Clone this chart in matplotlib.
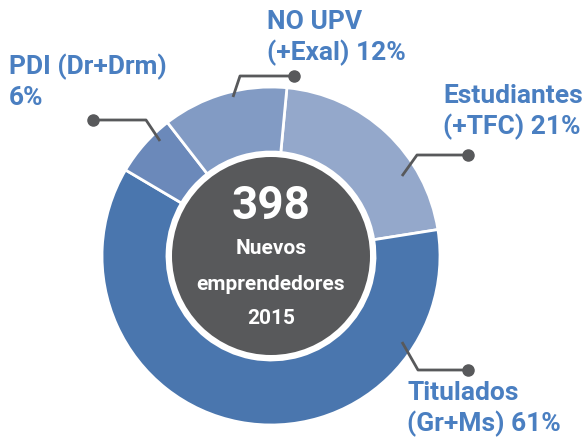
import matplotlib
matplotlib.use("Agg")
import matplotlib.pyplot as plt
from matplotlib.patches import Circle

# ---- data ----
categories = ["Estudiantes\n(+TFC) 21%", "Titulados\n(Gr+Ms) 61%", "PDI (Dr+Drm)\n6%", "NO UPV\n(+Exal) 12%"]
values = [21, 61, 6, 12]
colors = ["#94a8cb", "#4a76ae", "#6b89ba", "#829bc4"]
total_label = "398"
center_lines = ["Nuevos", "emprendedores", "2015"]

W, H = 588, 438
fig = plt.figure(figsize=(W / 100, H / 100), dpi=100)
ax = fig.add_axes([0, 0, 1, 1])

def Y(y):
    return H - y

cx, cy = 271, Y(256)
R, r_in, r_dark = 169, 104, 99

ax.pie(values, colors=colors, startangle=84.6, counterclock=False,
       center=(cx, cy), radius=R, frame=True,
       wedgeprops=dict(width=R - r_in, edgecolor="white", linewidth=2))
ax.set_xlim(0, W)
ax.set_ylim(0, H)
ax.set_aspect("equal")
ax.axis("off")

ax.add_patch(Circle((cx, cy), r_dark, facecolor="#58595b", edgecolor="none", zorder=3))

font = "Roboto"
ax.text(cx, Y(206), total_label, color="white", fontsize=33, fontweight="bold",
        family=font, ha="center", va="center", zorder=4)
for txt, yy in zip(center_lines, [Y(249), Y(284), Y(319)]):
    ax.text(cx, yy, txt, color="white", fontsize=15, fontweight="bold",
            family=font, ha="center", va="center", zorder=4)

# leader lines (layout)
leaders = [
    [(402, 176), (417, 155), (468, 155)],   # Estudiantes
    [(402, 342), (418, 370), (468, 370)],   # Titulados
    [(160, 141), (146, 120), (93, 120)],    # PDI
    [(233, 97), (240, 76), (294, 76)],      # NO UPV
]
lc = "#58595b"
for pts in leaders:
    xs = [p[0] for p in pts]
    ys = [Y(p[1]) for p in pts]
    ax.plot(xs, ys, color=lc, lw=2, solid_capstyle="butt", zorder=5)
    ax.plot(xs[-1], ys[-1], "o", color=lc, ms=8, zorder=5)

label_pos = [(443, 103), (407, 400), (9, 74), (267, 29)]  # baseline of first line
tc = "#4a7fc1"
for txt, (x, yb) in zip(categories, label_pos):
    lines = txt.split("\n")
    for i, ln in enumerate(lines):
        ax.text(x, Y(yb + i * 31), ln, color=tc, fontsize=19, fontweight="bold",
                family=font, ha="left", va="baseline")

fig.savefig("out.png", dpi=100)
